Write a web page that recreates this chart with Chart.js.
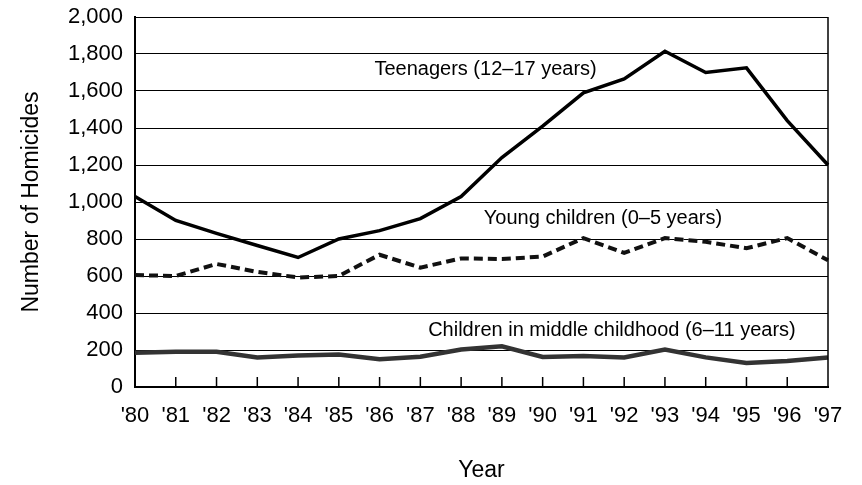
<!DOCTYPE html>
<html>
<head>
<meta charset="utf-8">
<title>Number of Homicides by Age Group</title>
<script src="https://cdn.jsdelivr.net/npm/chart.js@4.4.1/dist/chart.umd.min.js"></script>
<style>
  body { margin: 0; background: #fff; }
  canvas { display: block; }
</style>
</head>
<body>
<canvas id="homChart" width="862" height="485"></canvas>
<script>
// Years along the X-Axis
var years = ["'80", "'81", "'82", "'83", "'84", "'85", "'86", "'87", "'88", "'89", "'90", "'91", "'92", "'93", "'94", "'95", "'96", "'97"];

// Homicides per year
var teenagers = [1030, 900, 830, 765, 700, 800, 845, 910, 1030, 1240, 1410, 1590, 1665, 1815, 1700, 1725, 1440, 1200];
var youngChildren = [605, 600, 665, 622, 592, 600, 715, 645, 695, 692, 705, 805, 725, 805, 785, 750, 805, 685];
var middleChildhood = [185, 190, 190, 160, 170, 176, 150, 164, 203, 220, 162, 168, 160, 203, 160, 130, 140, 160];

// Y-Axis tick labels
var yTicks = [0, 200, 400, 600, 800, 1000, 1200, 1400, 1600, 1800, 2000];

// Text placed next to each line: [text, year index, value]
var lineLabels = [
    ["Teenagers (12\u201317 years)", 8.6, 1714],
    ["Young children (0\u20135 years)", 11.48, 913],
    ["Children in middle childhood (6\u201311 years)", 11.7, 303]
];

var fontFamily = '"Liberation Sans", Arial, Helvetica, sans-serif';

// Draws the right border, the inward year ticks and the line labels
var extrasPlugin = {
    id: 'extras',
    afterDraw: function(chart) {
        var ctx = chart.ctx;
        var area = chart.chartArea;
        var xScale = chart.scales.x;
        var yScale = chart.scales.y;
        ctx.save();
        ctx.strokeStyle = '#000';
        ctx.lineWidth = 1.5;
        ctx.beginPath();
        ctx.moveTo(area.right, area.top);
        ctx.lineTo(area.right, area.bottom);
        ctx.stroke();
        for (var i = 1; i < years.length - 1; i++) {
            var px = xScale.getPixelForValue(i);
            ctx.beginPath();
            ctx.moveTo(px, area.bottom);
            ctx.lineTo(px, area.bottom - 10);
            ctx.stroke();
        }
        ctx.fillStyle = '#000';
        ctx.font = '20px ' + fontFamily;
        ctx.textAlign = 'center';
        ctx.textBaseline = 'middle';
        lineLabels.forEach(function(l) {
            ctx.fillText(l[0], xScale.getPixelForValue(l[1]), yScale.getPixelForValue(l[2]));
        });
        ctx.restore();
    }
};

var ctx = document.getElementById('homChart').getContext('2d');
var homChart = new Chart(ctx, {
    type: 'line',
    data: {
        labels: years,
        datasets: [{
            label: 'Teenagers (12-17 years)',
            data: teenagers,
            borderColor: '#000',
            borderWidth: 3.5
        }, {
            label: 'Young children (0-5 years)',
            data: youngChildren,
            borderColor: '#111',
            borderWidth: 4,
            borderDash: [9, 5]
        }, {
            label: 'Young children inner',
            data: youngChildren,
            borderColor: '#fff',
            borderWidth: 1.3,
            borderDash: [9, 5]
        }, {
            label: 'Children in middle childhood (6-11 years)',
            data: middleChildhood,
            borderColor: '#333',
            borderWidth: 4.5
        }, {
            label: 'Middle childhood inner',
            data: middleChildhood,
            borderColor: '#ddd',
            borderWidth: 1.5
        }]
    },
    options: {
        responsive: false,
        animation: false,
        layout: { padding: { top: 17, right: 34, left: 0, bottom: 0 } },
        elements: {
            point: { radius: 0 },
            line: { tension: 0, borderCapStyle: 'butt', borderJoinStyle: 'miter' }
        },
        plugins: {
            legend: { display: false },
            tooltip: { enabled: false }
        },
        scales: {
            x: {
                grid: { display: false },
                border: { color: '#000', width: 2 },
                ticks: {
                    color: '#000',
                    font: { family: fontFamily, size: 22 },
                    padding: 8,
                    maxRotation: 0,
                    autoSkip: false
                },
                title: {
                    display: true,
                    text: 'Year',
                    color: '#000',
                    font: { family: fontFamily, size: 23 },
                    padding: { top: 0, bottom: 1 }
                },
                afterFit: function(scale) { scale.height = 98; }
            },
            y: {
                min: 0,
                max: 2000,
                afterBuildTicks: function(scale) {
                    scale.ticks = yTicks.map(function(v) { return { value: v }; });
                },
                grid: { color: '#000', lineWidth: 1, drawTicks: false },
                border: { color: '#000', width: 2 },
                ticks: {
                    color: '#000',
                    font: { family: fontFamily, size: 22 },
                    padding: 12,
                    callback: function(v) { return v.toLocaleString('en-US'); }
                },
                title: {
                    display: true,
                    text: 'Number of Homicides',
                    color: '#000',
                    font: { family: fontFamily, size: 23 },
                    padding: { top: 18, bottom: 0 }
                },
                afterFit: function(scale) {
                    scale.width = 135;
                    scale.paddingTop = 0; // let the top gridline sit right under the layout padding
                    scale.paddingBottom = 0;
                }
            }
        }
    },
    plugins: [extrasPlugin]
});
</script>
</body>
</html>
